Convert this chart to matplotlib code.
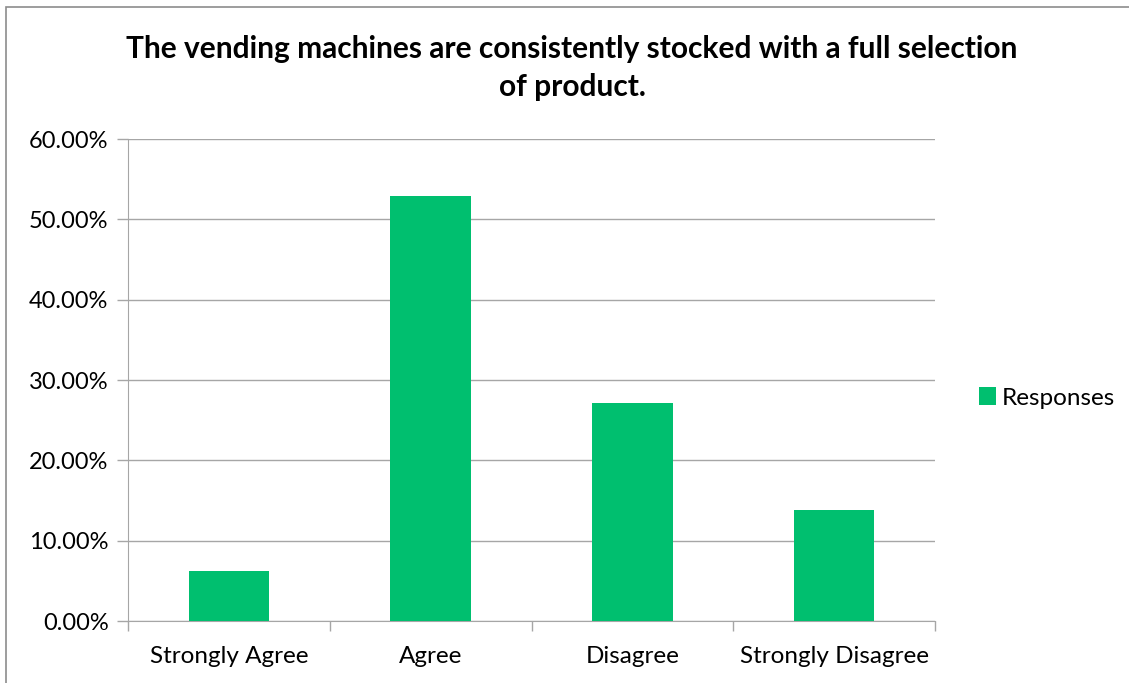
import matplotlib.pyplot as plt
from matplotlib.patches import Rectangle
from matplotlib.ticker import FuncFormatter, FixedLocator

categories = ['Strongly Agree', 'Agree', 'Disagree', 'Strongly Disagree']
responses = [0.062, 0.529, 0.271, 0.138]
series_name = 'Responses'

plt.rcParams['font.family'] = ['Lato', 'DejaVu Sans']
grey = '#A6A6A6'
green = '#00BF6F'

fig = plt.figure(figsize=(11.29, 6.83), dpi=100)
fig.patches.append(Rectangle((6 / 1129, -0.1), 1.2, 1 - 7 / 683 + 0.1, transform=fig.transFigure,
                             fill=False, edgecolor='#8C8C8C', linewidth=1.2))

ax = fig.add_axes([128 / 1129, 1 - 621 / 683, (935 - 128) / 1129, (621 - 139) / 683])
x = list(range(len(categories)))
ax.bar(x, responses, width=0.4, color=green, label=series_name, zorder=3)

ax.set_xlim(-0.5, len(categories) - 0.5)
ax.set_ylim(0, 0.6)
ax.set_yticks([i / 10 for i in range(7)])
ax.yaxis.set_major_formatter(FuncFormatter(lambda v, p: f'{v * 100:.2f}%'))
ax.grid(axis='y', color=grey, linewidth=1, zorder=0)

ax.set_xticks(x)
ax.set_xticklabels(categories)
ax.xaxis.set_minor_locator(FixedLocator([i - 0.5 for i in range(len(categories) + 1)]))
ax.tick_params(axis='x', which='major', length=0, pad=18, labelsize=17.5)
ax.tick_params(axis='x', which='minor', length=7, color=grey, width=1)
ax.tick_params(axis='y', length=8, color=grey, width=1, labelsize=17, pad=6)

for s in ['top', 'right']:
    ax.spines[s].set_visible(False)
ax.spines['left'].set_color(grey)
ax.spines['bottom'].set_color(grey)

fig.text(572 / 1129, 1 - 68 / 683,
         'The vending machines are consistently stocked with a full selection\nof product.',
         ha='center', va='center', fontsize=21.5, fontweight='bold', linespacing=1.42)

fig.legend(loc='center left', bbox_to_anchor=(957 / 1129, 1 - 398 / 683), frameon=False,
           fontsize=17.5, handlelength=0.7, handleheight=0.7, handletextpad=0.25)

fig.savefig('out.png', dpi=100)
